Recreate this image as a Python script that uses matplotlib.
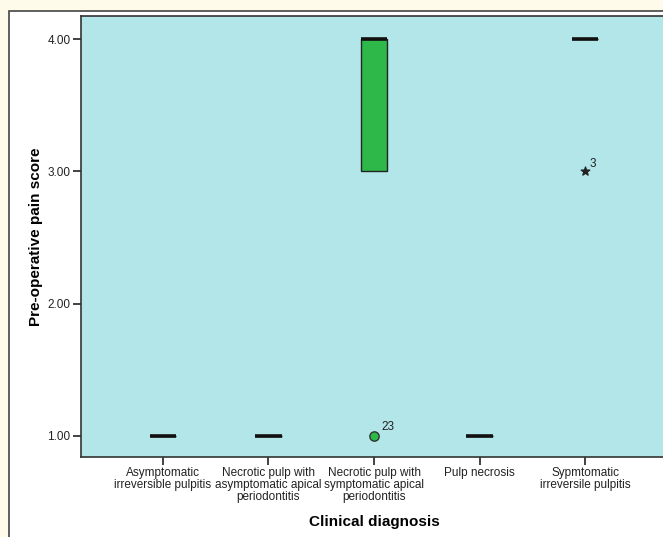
import matplotlib.pyplot as plt
from matplotlib.patches import Rectangle

plt.rcParams['font.family'] = ['Liberation Sans', 'DejaVu Sans']

# Clinical diagnosis groups
categories = ['Asymptomatic\nirreversible pulpitis',
              'Necrotic pulp with\nasymptomatic apical\nperiodontitis',
              'Necrotic pulp with\nsymptomatic apical\nperiodontitis',
              'Pulp necrosis',
              'Sypmtomatic\nirreversile pulpitis']

# Box statistics of the pre-operative pain score
q1 = [1, 1, 3, 1, 4]
medians = [1, 1, 4, 1, 4]
q3 = [1, 1, 4, 1, 4]
whislo = [1, 1, 3, 1, 4]
whishi = [1, 1, 4, 1, 4]

# Outliers (circle) and extremes (star) with their case numbers
outlier_group = [3]
outlier_value = [1]
outlier_case = ['23']
extreme_group = [5]
extreme_value = [3]
extreme_case = ['3']

W, H = 663, 537
fig = plt.figure(figsize=(W / 100, H / 100), dpi=100)
fig.patch.set_facecolor('#fffbea')

# white panel with a frame
panel = Rectangle((9 / W, -0.1), 1.2, 1 - 11 / H + 0.1, transform=fig.transFigure,
                  facecolor='white', edgecolor='#444444', linewidth=1.2, zorder=-1)
fig.patches.append(panel)

ax = fig.add_axes([81 / W, 1 - 457 / H, (667 - 81) / W, (457 - 16) / H])
ax.set_facecolor('#b3e6e8')

positions = list(range(1, len(categories) + 1))
stats = []
for i in range(len(categories)):
    stats.append({'q1': q1[i], 'med': medians[i], 'q3': q3[i],
                  'whislo': whislo[i], 'whishi': whishi[i], 'fliers': []})

ax.bxp(stats, positions=positions, widths=0.25, patch_artist=True,
       showcaps=False, showfliers=False,
       boxprops=dict(facecolor='#2eb84a', edgecolor='#222222', linewidth=1),
       medianprops=dict(color='#111111', linewidth=2.6, solid_capstyle='butt'),
       whiskerprops=dict(color='#222222', linewidth=1))

ax.scatter(outlier_group, outlier_value, s=45, marker='o', facecolor='#2eb84a',
           edgecolor='#333333', linewidth=1, zorder=5)
for g, v, c in zip(outlier_group, outlier_value, outlier_case):
    ax.annotate(c, (g, v), xytext=(5, 4), textcoords='offset points',
                fontsize=8.5, color='#222222')

ax.scatter(extreme_group, extreme_value, s=40, marker='*', color='#222222', zorder=5)
for g, v, c in zip(extreme_group, extreme_value, extreme_case):
    ax.annotate(c, (g, v), xytext=(3, 3), textcoords='offset points',
                fontsize=8.5, color='#222222')

ax.set_xlim(0.223, 5.777)
ax.set_ylim(0.84, 4.174)
ax.set_yticks([1, 2, 3, 4])
ax.set_yticklabels(['1.00', '2.00', '3.00', '4.00'])
ax.set_xticks(positions)
ax.set_xticklabels(categories, linespacing=0.95)
ax.tick_params(axis='both', labelsize=8.5, colors='#222222', length=5.5, width=1.2,
               direction='out', pad=2)

for s in ax.spines.values():
    s.set_color('#333333')
    s.set_linewidth(1.2)

ax.set_xlabel('Clinical diagnosis', fontsize=11, fontweight='bold', labelpad=9)
ax.set_ylabel('Pre-operative pain score', fontsize=11, fontweight='bold', labelpad=3)

fig.savefig('out.png', dpi=100, facecolor=fig.get_facecolor())
